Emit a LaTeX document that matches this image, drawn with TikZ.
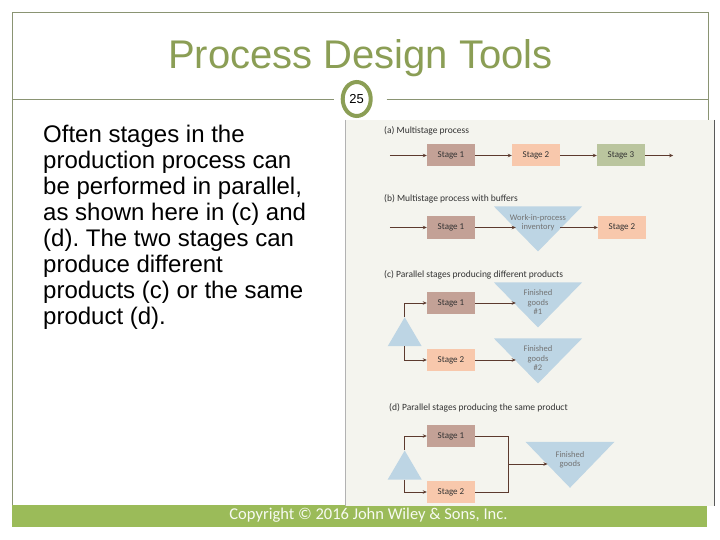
\documentclass[tikz,border=0pt]{standalone}
\usepackage{fontspec}
\setmainfont{Liberation Sans}
\newfontfamily\figfont{Carlito}
\usetikzlibrary{positioning,shapes.geometric,arrows.meta}
\frenchspacing

\definecolor{slidegreen}{HTML}{8B9E55}
\definecolor{framegray}{HTML}{8A9473}
\definecolor{bargreen}{HTML}{9BBB59}
\definecolor{panelbg}{HTML}{F4F4EE}
\definecolor{stageone}{HTML}{C3A196}
\definecolor{stagetwo}{HTML}{F8C8AC}
\definecolor{stagethree}{HTML}{BAC59E}
\definecolor{buffblue}{HTML}{BDD5E4}
\definecolor{flowbrown}{HTML}{5C3A2E}

\begin{document}
\begin{tikzpicture}[x=1pt, y=-1pt, node distance=85pt,
    stagebox/.style={rectangle, minimum width=48pt, minimum height=22pt, inner sep=0pt,
      font=\figfont\fontsize{9}{10}\selectfont, text=black!80},
    buffer/.style={isosceles triangle, isosceles triangle stretches, shape border rotate=270,
      fill=buffblue, minimum width=88pt, minimum height=45pt, inner sep=0pt},
    splitter/.style={isosceles triangle, isosceles triangle stretches, shape border rotate=90,
      fill=buffblue, minimum width=34pt, minimum height=29pt, inner sep=0pt},
    flow/.style={draw=flowbrown, line width=0.8pt, -{Stealth[length=4pt,width=3.5pt]}},
    link/.style={draw=flowbrown, line width=0.8pt},
    partlabel/.style={anchor=base west, inner sep=0pt, font=\figfont\fontsize{9.5}{11}\selectfont, text=black!80},
    bufftext/.style={align=center, inner sep=0pt, font=\figfont\fontsize{8.5}{9.5}\selectfont, text=black!55}]
    \useasboundingbox (0,0) rectangle (720,540);
    \fill[white] (0,0) rectangle (720,540);

    \draw[framegray, line width=0.9pt] (12,505) -- (12,12) -- (708,12) -- (708,505);
    \node[anchor=base, inner sep=0pt, font=\fontsize{40}{44}\selectfont, text=slidegreen] (title) at (360.5,69) {Process Design Tools};
    \node[ellipse, draw=slidegreen, line width=4pt, fill=white, minimum width=28pt, minimum height=34pt,
      inner sep=0pt, font=\fontsize{13}{13}\selectfont] (pg) at (356.7,99) {25};
    \draw[framegray, line width=0.9pt] (12,99) -- ([xshift=-7pt]pg.west);
    \draw[framegray, line width=0.9pt] ([xshift=14pt]pg.east) -- (708,99);

    \node[anchor=north west, align=left, inner sep=0pt, font=\fontsize{24}{26}\selectfont] (body) at (43,124.5)
      {Often stages in the\\production process can\\be performed in parallel,\\as shown here in (c) and\\(d). The two stages can\\produce different\\products (c) or the same\\product (d).};

    \fill[bargreen] (12,505) rectangle (707,527);
    \fill[panelbg] (345,120) rectangle (714,506);
    \draw[gray!60] (345,120) -- (345,506);
    \draw[black!65] (714,120) -- (714,506);

    \node[partlabel] (la) at (384,134) {(a) Multistage process};
    \node[partlabel] (lb) at (384,202) {(b) Multistage process with buffers};
    \node[partlabel] (lc) at (384,277) {(c) Parallel stages producing different products};
    \node[partlabel] (ld) at (389,410) {(d) Parallel stages producing the same product};

    \node[stagebox, fill=stageone] (a1) at (451,155.5) {Stage 1};
    \node[stagebox, fill=stagetwo, right of=a1] (a2) {Stage 2};
    \node[stagebox, fill=stagethree, right of=a2] (a3) {Stage 3};
    \coordinate[left=37pt of a1] (ain);
    \coordinate[right=28pt of a3] (aout);
    \draw[flow] (ain) -- (a1);
    \draw[flow] (a1) -- (a2);
    \draw[flow] (a2) -- (a3);
    \draw[flow] (a3) -- (aout);

    \node[stagebox, fill=stageone] (b1) at (451,227.5) {Stage 1};
    \node[buffer, anchor=apex] (bw) at (538,252) {};
    \node[bufftext] (bwt) at (538,222.5) {Work-in-process\\inventory};
    \node[stagebox, fill=stagetwo] (b2) at (622,227.5) {Stage 2};
    \coordinate[left=37pt of b1] (bin);
    \draw[flow] (bin) -- (b1);
    \draw[flow] (b1) -- (b1 -| bw.right side);
    \draw[flow] (b2 -| bw.left side) -- (b2);

    \node[stagebox, fill=stageone] (c1) at (451,303) {Stage 1};
    \node[stagebox, fill=stagetwo] (c2) at (451,360) {Stage 2};
    \node[buffer, anchor=apex] (cf1) at (538,328) {};
    \node[bufftext] (cf1t) at (538,302.5) {Finished\\goods\\\#1};
    \node[buffer, anchor=apex] (cf2) at (538,384) {};
    \node[bufftext] (cf2t) at (538,358.5) {Finished\\goods\\\#2};
    \node[splitter, anchor=apex] (ct) at (404.7,316.7) {};
    \draw[flow] (ct.apex) |- (c1);
    \draw[flow] (ct.lower side) |- (c2);
    \draw[flow] (c1) -- (c1 -| cf1.right side);
    \draw[flow] (c2) -- (c2 -| cf2.right side);

    \node[stagebox, fill=stageone] (d1) at (451,436) {Stage 1};
    \node[stagebox, fill=stagetwo] (d2) at (451,492) {Stage 2};
    \node[splitter, anchor=apex] (dt) at (404.7,450) {};
    \node[buffer, anchor=apex, minimum width=89pt, minimum height=46pt] (df) at (570,488.3) {};
    \node[bufftext] (dft) at (570,460) {Finished\\goods};
    \coordinate (dm) at (508.3,464);
    \draw[flow] (dt.apex) |- (d1);
    \draw[flow] (dt.lower side) |- (d2);
    \draw[link] (d1) -| (dm);
    \draw[link] (d2) -| (dm);
    \draw[flow] (dm) -- (dm -| df.right side);

    \node[font=\figfont\fontsize{16.5}{18}\selectfont, text=white!92!bargreen] (copy) at (368.5,515.5)
      {Copyright © 2016 John Wiley \& Sons, Inc.};
\end{tikzpicture}
\end{document}
